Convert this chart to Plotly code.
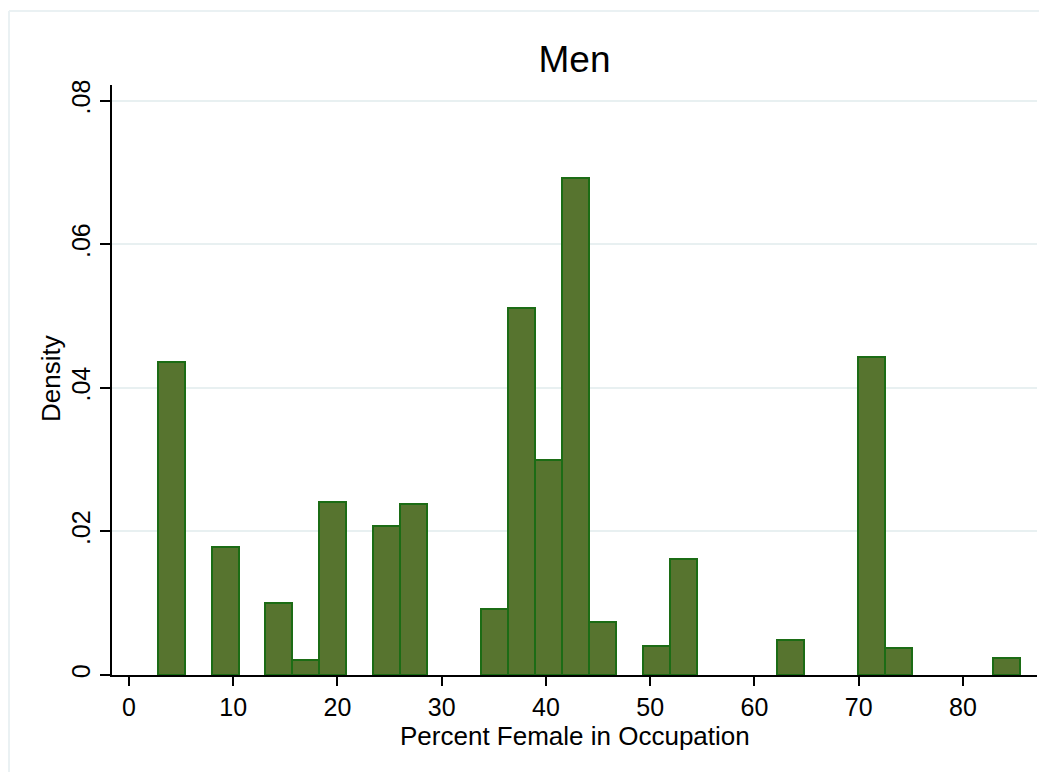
import plotly.graph_objects as go

# Histogram data (density per bin)
bin_start = 2.75
bin_width = 2.585
density = [0.0436, 0.0, 0.0178, 0.0, 0.0100, 0.0021, 0.0241, 0.0,
           0.0208, 0.0238, 0.0, 0.0, 0.0092, 0.0511, 0.0300, 0.0693,
           0.0074, 0.0, 0.0040, 0.0162, 0.0, 0.0, 0.0, 0.0049,
           0.0, 0.0, 0.0443, 0.0038, 0.0, 0.0, 0.0, 0.0024]
x_ticks = [0, 10, 20, 30, 40, 50, 60, 70, 80]
y_ticks = [0, 0.02, 0.04, 0.06, 0.08]
y_tick_text = ["0", ".02", ".04", ".06", ".08"]

centers = [bin_start + bin_width * (i + 0.5) for i in range(len(density))]
xs = [c for c, d in zip(centers, density) if d > 0]
ys = [d for d in density if d > 0]

FONT = "Liberation Sans, Arial, Helvetica, sans-serif"
GRID = "#E8F0F1"
FRAME = "#EAF1F3"

fig = go.Figure(go.Bar(
    x=xs, y=ys, width=bin_width,
    marker=dict(color="#57742F", line=dict(color="#1C6C15", width=2)),
    hoverinfo="x+y",
))

W, H = 1039, 764  # page body adds an 8px offset
fig.update_layout(
    width=W, height=H,
    margin=dict(l=104, r=10, t=77, b=97),
    paper_bgcolor="white", plot_bgcolor="white",
    showlegend=False,
    font=dict(family=FONT, color="black", size=25),
    title=dict(text="Men", x=0.5, xanchor="center", xref="paper",
               y=1 - 51 / H, yref="container", yanchor="middle",
               font=dict(family=FONT, size=37, color="black")),
    bargap=0,
)

fig.update_xaxes(
    range=[-1.63, 87.1], tickvals=x_ticks,
    ticks="outside", ticklen=9, tickwidth=1.5, tickcolor="black",
    showline=True, linecolor="black", linewidth=1.5,
    showgrid=False, zeroline=False, automargin=False,
    tickfont=dict(size=25, family=FONT),
)
fig.update_yaxes(
    range=[0, 0.0822], tickvals=y_ticks, ticktext=y_tick_text,
    tickangle=-90,
    ticks="outside", ticklen=10, tickwidth=1.5, tickcolor="black",
    showline=True, linecolor="black", linewidth=1.5,
    showgrid=True, gridcolor=GRID, gridwidth=2,
    zeroline=False, automargin=False,
    tickfont=dict(size=25, family=FONT),
)

# axis titles
fig.add_annotation(text="Percent Female in Occupation", xref="paper", yref="paper",
                   x=0.5, y=-(736 - 675) / 590, xanchor="center", yanchor="middle",
                   showarrow=False, font=dict(size=26, family=FONT))
fig.add_annotation(text="Density", xref="paper", yref="paper",
                   x=-(112 - 51) / 925, y=(675 - 378) / 590, textangle=-90,
                   xanchor="center", yanchor="middle",
                   showarrow=False, font=dict(size=26, family=FONT))

# light outer frame (top and left edges)
fx = -(112 - 9) / 925
fy = (675 - 11) / 590
fig.add_shape(type="line", xref="paper", yref="paper",
              x0=fx, x1=1.02, y0=fy, y1=fy,
              line=dict(color=FRAME, width=2))
fig.add_shape(type="line", xref="paper", yref="paper",
              x0=fx, x1=fx, y0=fy, y1=-0.2,
              line=dict(color=FRAME, width=2))

fig.write_html("out.html")
